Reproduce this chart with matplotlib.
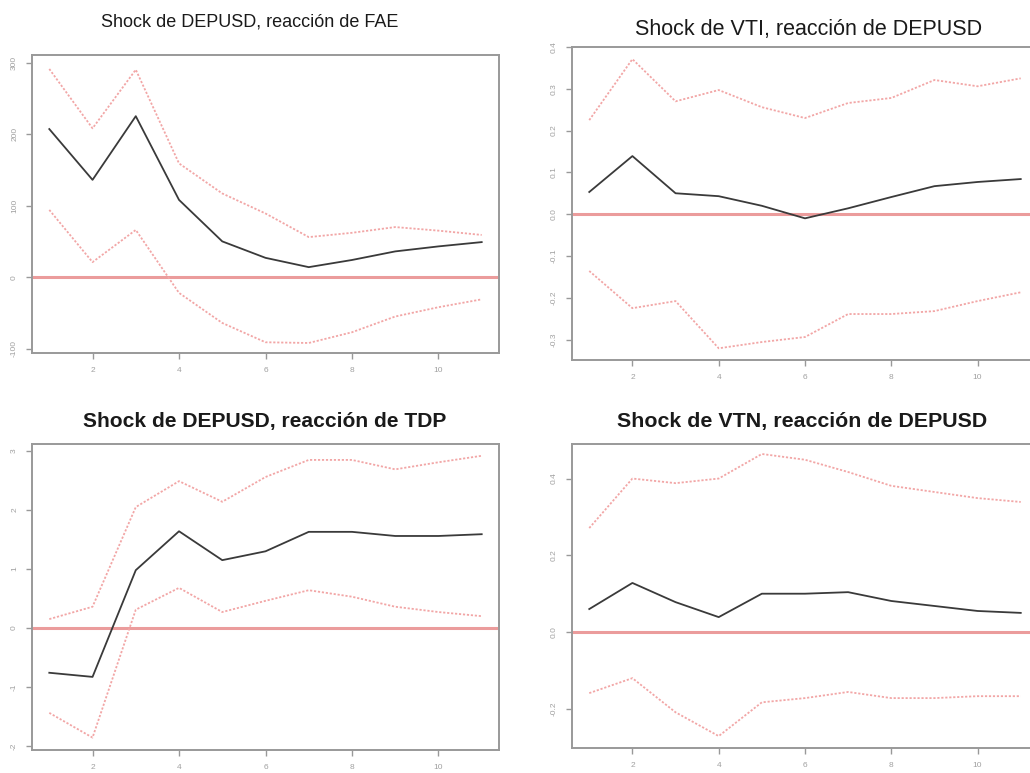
import numpy as np
import matplotlib
matplotlib.use("Agg")
import matplotlib.pyplot as plt

plt.rcParams["font.family"] = ["Liberation Sans", "DejaVu Sans"]

W, H = 1030, 773
horizon = np.arange(1, 12)

# ── panel values ───────────────────────────────────────────────────────────
fae_irf   = [207, 136, 225, 108, 50, 27, 14, 24, 36, 43, 49]
fae_upper = [291, 208, 290, 159, 117, 89, 56, 62, 70, 65, 59]
fae_lower = [94, 21, 66, -22, -64, -91, -92, -77, -55, -42, -31]

vti_irf   = [0.053, 0.139, 0.050, 0.043, 0.020, -0.010, 0.014, 0.041, 0.067, 0.077, 0.084]
vti_upper = [0.225, 0.371, 0.270, 0.297, 0.256, 0.230, 0.266, 0.278, 0.321, 0.306, 0.325]
vti_lower = [-0.136, -0.225, -0.208, -0.321, -0.306, -0.294, -0.239, -0.239, -0.232, -0.208, -0.187]

tdp_irf   = [-0.76, -0.83, 0.98, 1.64, 1.15, 1.30, 1.63, 1.63, 1.56, 1.56, 1.59]
tdp_upper = [0.15, 0.36, 2.05, 2.49, 2.14, 2.56, 2.85, 2.85, 2.69, 2.81, 2.92]
tdp_lower = [-1.44, -1.86, 0.31, 0.68, 0.27, 0.46, 0.64, 0.53, 0.36, 0.27, 0.20]

vtn_irf   = [0.060, 0.128, 0.078, 0.039, 0.100, 0.100, 0.104, 0.081, 0.068, 0.055, 0.050]
vtn_upper = [0.271, 0.400, 0.388, 0.400, 0.464, 0.449, 0.417, 0.381, 0.365, 0.349, 0.339]
vtn_lower = [-0.159, -0.120, -0.209, -0.271, -0.183, -0.172, -0.156, -0.172, -0.172, -0.167, -0.167]

titles = ["Shock de DEPUSD, reacción de FAE",
          "Shock de VTI, reacción de DEPUSD",
          "Shock de DEPUSD, reacción de TDP",
          "Shock de VTN, reacción de DEPUSD"]

x_ticks = [2, 4, 6, 8, 10]
fae_ticks = [-100, 0, 100, 200, 300]
vti_ticks = [-0.3, -0.2, -0.1, 0.0, 0.1, 0.2, 0.3, 0.4]
tdp_ticks = [-2, -1, 0, 1, 2, 3]
vtn_ticks = [-0.2, 0.0, 0.2, 0.4]

fig = plt.figure(figsize=(W / 100, H / 100), dpi=100)
fig.patch.set_facecolor("white")

def px_axes(left, top, right, bottom):
    return fig.add_axes([left / W, 1 - bottom / H, (right - left) / W, (bottom - top) / H])

frame = "#999999"
band  = "#f2a6a6"
zero  = "#eb9c9c"

def irf_panel(ax, irf, upper, lower, ylim, yticks, ylabels):
    ax.axhline(0, color=zero, lw=2.2, zorder=1)
    ax.plot(horizon, upper, color=band, lw=1.3, ls=(0, (1.2, 1)), zorder=2)
    ax.plot(horizon, lower, color=band, lw=1.3, ls=(0, (1.2, 1)), zorder=2)
    ax.plot(horizon, irf, color="#3a3a3a", lw=1.3, zorder=3)
    ax.set_xlim(0.6, 11.4)
    ax.set_ylim(*ylim)
    ax.set_xticks(x_ticks)
    ax.set_yticks(yticks)
    ax.set_yticklabels(ylabels, rotation=90, va="center")
    for s in ax.spines.values():
        s.set_color(frame)
        s.set_linewidth(1.4)
    ax.tick_params(colors=frame, labelcolor="#a0a0a0", labelsize=6,
                   length=4, width=1, pad=6)

ax1 = px_axes(32, 55, 499, 353)
irf_panel(ax1, fae_irf, fae_upper, fae_lower, (-106, 310.5),
          fae_ticks, [str(v) for v in fae_ticks])

ax2 = px_axes(572, 47, 1038, 360)
irf_panel(ax2, vti_irf, vti_upper, vti_lower, (-0.349, 0.400),
          vti_ticks, [f"{v:.1f}" for v in vti_ticks])

ax3 = px_axes(32, 444, 499, 750)
irf_panel(ax3, tdp_irf, tdp_upper, tdp_lower, (-2.07, 3.12),
          tdp_ticks, [str(v) for v in tdp_ticks])

ax4 = px_axes(572, 444, 1038, 748)
irf_panel(ax4, vtn_irf, vtn_upper, vtn_lower, (-0.302, 0.49),
          vtn_ticks, [f"{v:.1f}" for v in vtn_ticks])

# titles, placed like the stitched R screenshots
title_pos = [(250, 22, 13, "normal"), (809, 30, 15.5, "normal"),
             (265, 422, 15.1, "bold"), (802, 422, 15.4, "bold")]
for t, (cx, cy, fs, fw) in zip(titles, title_pos):
    fig.text(cx / W, 1 - cy / H, t, ha="center", va="center",
             fontsize=fs, fontweight=fw, color="#1a1a1a")

fig.savefig("out.png", dpi=100, facecolor="white")
